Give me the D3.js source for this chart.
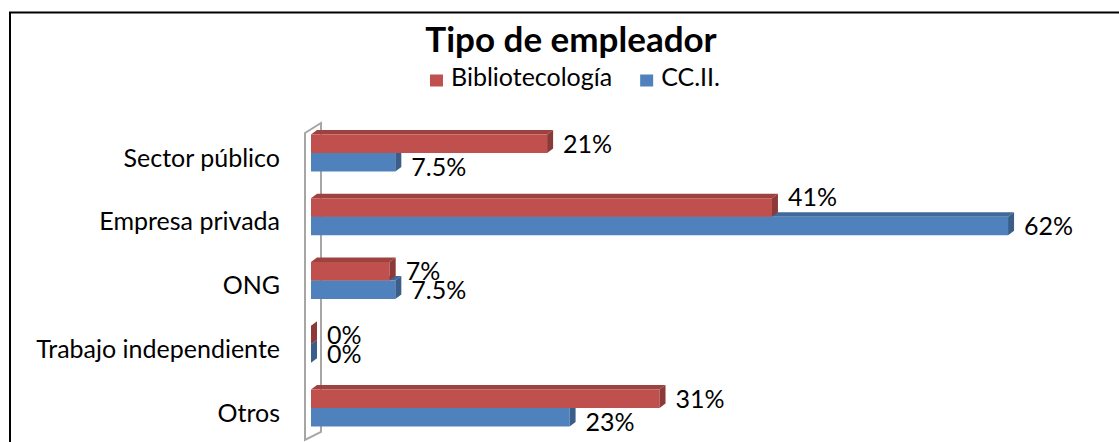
<!DOCTYPE html>
<html>
<head>
<meta charset="utf-8">
<script src="https://cdn.jsdelivr.net/npm/d3@7"></script>
<style>
  body { margin: 0; background: #fff; }
  svg { display: block; font-family: Lato, 'Open Sans', sans-serif; }
</style>
</head>
<body>
<div class="js-canvas"></div>
<script>
'use strict';

// chart data
const categories = ['Sector público', 'Empresa privada', 'ONG', 'Trabajo independiente', 'Otros'];
const seriesNames = ['Bibliotecología', 'CC.II.'];
const biblioValues = [0.21, 0.41, 0.07, 0, 0.31];
const cciiValues = [0.075, 0.62, 0.075, 0, 0.23];
const valueLabels = [
    ['21%', '41%', '7%', '0%', '31%'],
    ['7.5%', '62%', '7.5%', '0%', '23%']
];

const config = {
    width: 1119,
    height: 442,
    plot: { left: 311, right: 1098, top: 123, bottom: 440 },
    depth: { dx: 6, dy: 4.5 },
    barHeight: 18.5,
    colors: ['#C0504D', '#4F81BD'],
    fontFamily: "Lato, 'Open Sans', sans-serif",
    fontSize: 25
};

const seriesValues = [biblioValues, cciiValues];

const svg = d3.select('.js-canvas')
    .append('svg')
    .attr('width', config.width)
    .attr('height', config.height);

// outer chart frame (right & bottom edges run off the picture)
svg.append('rect')
    .attr('x', 10)
    .attr('y', 12.5)
    .attr('width', 1200)
    .attr('height', 500)
    .attr('fill', 'none')
    .attr('stroke', '#000')
    .attr('stroke-width', 2);

// scales
const x = d3.scaleLinear()
    .domain([0, 0.7])
    .range([config.plot.left, config.plot.right]);

const y = d3.scalePoint()
    .domain(categories)
    .range([153, 408]);

const ySeries = d3.scaleBand()
    .domain(seriesNames)
    .range([-config.barHeight, config.barHeight]);

// side wall of the 3d plot area
const x0 = x(0);
const wall = [
    [x0 - 6, config.plot.top + 10],
    [x0 + 10, config.plot.top],
    [x0 + 10, config.plot.bottom - 8],
    [x0 - 6, config.plot.bottom]
];
svg.append('path')
    .attr('d', d3.line()(wall) + 'Z')
    .attr('fill', 'none')
    .attr('stroke', '#A6A6A6')
    .attr('stroke-width', 2);

// bars: draw CC.II. first so the red bars sit over its top face
const { dx, dy } = config.depth;
const bars = svg.append('g');

[1, 0].forEach(s => {
    const color = d3.color(config.colors[s]);
    const data = categories.map((c, i) => ({ cat: c, value: seriesValues[s][i] }));

    const g = bars.selectAll(null)
        .data(data)
        .enter().append('g');

    const top = d => y(d.cat) + ySeries(seriesNames[s]);
    const bot = d => top(d) + ySeries.bandwidth();

    // top face
    g.append('path')
        .attr('d', d => d3.line()([
            [x0, top(d)], [x(d.value), top(d)],
            [x(d.value) + dx, top(d) - dy], [x0 + dx, top(d) - dy]
        ]) + 'Z')
        .attr('fill', color.darker(0.55));

    // front face
    g.append('rect')
        .attr('x', x0)
        .attr('y', top)
        .attr('width', d => x(d.value) - x0)
        .attr('height', ySeries.bandwidth())
        .attr('fill', color);

    // end face
    g.append('path')
        .attr('d', d => d3.line()([
            [x(d.value), top(d)], [x(d.value) + dx, top(d) - dy],
            [x(d.value) + dx, bot(d) - dy], [x(d.value), bot(d)]
        ]) + 'Z')
        .attr('fill', color.darker(0.9));
});

// data labels, nudged like Excel does when the other bar gets in the way
const labelShift = (s, i) => {
    const own = seriesValues[s][i];
    const other = seriesValues[1 - s][i];
    if (s === 0) {
        // red label sits over the longer blue bar -> lift it
        return x(other) + dx > x(own) + 16 ? -11 : 0;
    }
    return other > own ? 5 : 0;
};

seriesNames.forEach((name, s) => {
    svg.append('g')
        .selectAll('text')
        .data(categories)
        .enter().append('text')
        .attr('x', (c, i) => x(seriesValues[s][i]) + 16)
        .attr('y', (c, i) => y(c) + ySeries(name) + ySeries.bandwidth() / 2 + labelShift(s, i))
        .attr('dy', '0.36em')
        .attr('font-size', config.fontSize)
        .attr('fill', '#000')
        .text((c, i) => valueLabels[s][i]);
});

// category axis labels
const yAxis = d3.axisLeft(y).tickSize(0).tickPadding(0);
const yAxisGroup = svg.append('g')
    .attr('transform', `translate(280, 5)`)
    .call(yAxis)
    .attr('font-family', config.fontFamily)
    .attr('font-size', config.fontSize);
yAxisGroup.select('.domain').remove();
yAxisGroup.selectAll('text')
    .attr('fill', '#000');

// title
svg.append('text')
    .attr('x', 571)
    .attr('y', 52)
    .attr('text-anchor', 'middle')
    .attr('font-size', 35)
    .attr('font-weight', 'bold')
    .text('Tipo de empleador');

// legend
const legend = svg.append('g');
let lx = 0;
seriesNames.forEach((name, s) => {
    const item = legend.append('g').attr('transform', `translate(${lx}, 0)`);
    item.append('rect')
        .attr('x', 0)
        .attr('y', 74.5)
        .attr('width', 13)
        .attr('height', 12)
        .attr('fill', config.colors[s]);
    const t = item.append('text')
        .attr('x', 21)
        .attr('y', 86)
        .attr('font-size', config.fontSize)
        .text(name);
    lx += 21 + t.node().getComputedTextLength() + 28;
});
const legendWidth = lx - 28;
legend.attr('transform', `translate(${575 - legendWidth / 2}, 0)`);
</script>
</body>
</html>
